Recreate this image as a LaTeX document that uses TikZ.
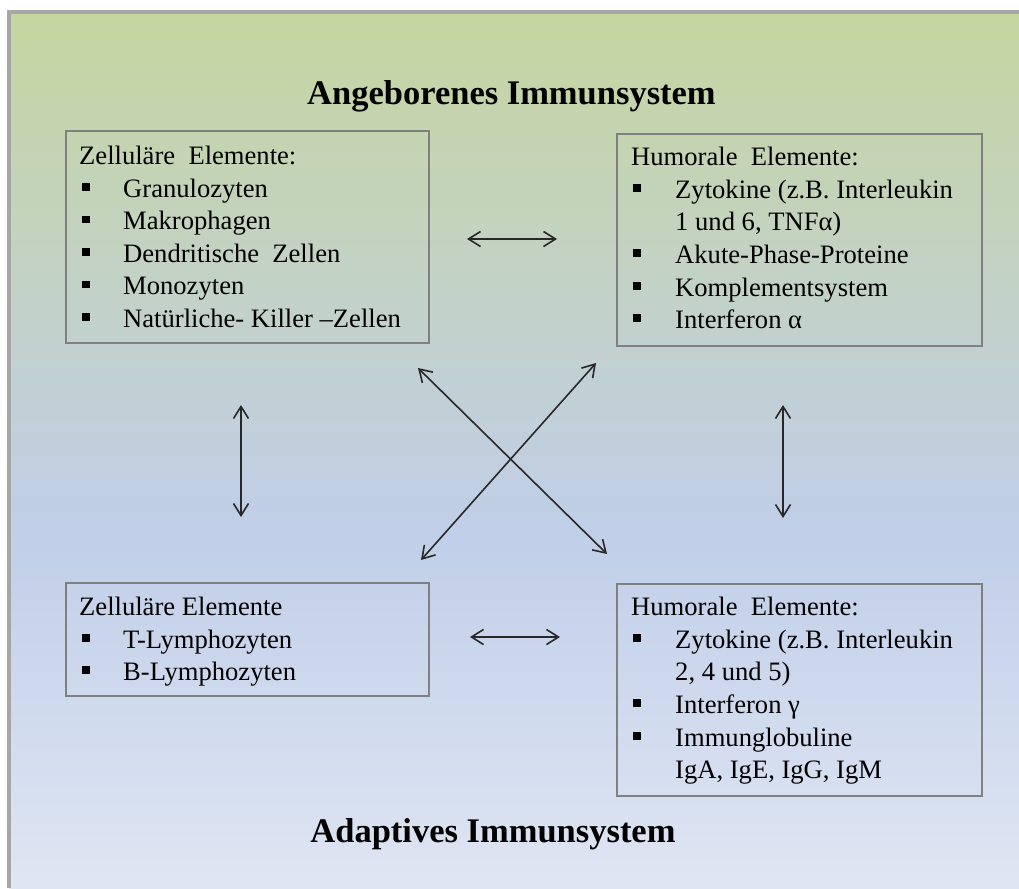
\documentclass[tikz,border=0pt]{standalone}
\usepackage{fontspec}
\setmainfont{Liberation Serif}
\usetikzlibrary{arrows.meta}
\definecolor{bgtop}{RGB}{197,214,160}
\definecolor{bgmid}{RGB}{192,206,232}
\definecolor{bgbot}{RGB}{223,230,243}
\definecolor{framegray}{RGB}{166,166,166}
\definecolor{boxgray}{RGB}{128,128,128}
\definecolor{arrowgray}{RGB}{40,40,40}
\pgfdeclareverticalshading{bgshade}{100bp}{%
  color(0bp)=(bgbot); color(25bp)=(bgbot); color(45.5bp)=(bgmid); color(75bp)=(bgtop); color(100bp)=(bgtop)}
\tikzset{
  box/.style={draw=boxgray, line width=1.8pt, inner sep=0pt, anchor=north west},
  txt/.style={anchor=base west, inner sep=0pt, font=\fontsize{26.6}{32}\selectfont},
  title/.style={anchor=base, inner sep=0pt, font=\fontsize{34.5}{40}\selectfont\bfseries},
  bul/.style={fill=black, minimum size=7.5pt, inner sep=0pt},
  link/.style={draw=arrowgray, line width=1.6pt, {Straight Barb[length=12pt,width=15pt,line width=1.6pt]}-{Straight Barb[length=12pt,width=15pt,line width=1.6pt]}}
}
\begin{document}
\begin{tikzpicture}[x=1pt,y=-1pt]
\useasboundingbox (0,0) rectangle (1019,888);
\fill[white] (0,0) rectangle (1019,888);
\shade[shading=bgshade] (9,12) rectangle (1019,888);
\draw[framegray, line width=4pt] (9,888) -- (9,12) -- (1019,12);

% titles
\node[title] (t1) at (511.5,105) {Angeborenes Immunsystem};
\node[title] (t2) at (493,842) {Adaptives Immunsystem};

% boxes
\node[box, minimum width=363pt, minimum height=212pt] (tl) at (65,130) {};
\node[box, minimum width=365pt, minimum height=212pt] (tr) at (616,133) {};
\node[box, minimum width=363pt, minimum height=113pt] (bl) at (65,582) {};
\node[box, minimum width=365pt, minimum height=212pt] (br) at (616,583) {};

% top left content
\node[txt] (tlh) at (79,164) {Zelluläre\ \ Elemente:};
\node[bul] (tlb1) at (86,187) {}; \node[txt] (tl1) at (123,197) {Granulozyten};
\node[bul] (tlb2) at (86,219.5) {}; \node[txt] (tl2) at (123,229.5) {Makrophagen};
\node[bul] (tlb3) at (86,252) {}; \node[txt] (tl3) at (123,262) {Dendritische\ \ Zellen};
\node[bul] (tlb4) at (86,284.5) {}; \node[txt] (tl4) at (123,294.5) {Monozyten};
\node[bul] (tlb5) at (86,317) {}; \node[txt] (tl5) at (123,327) {Natürliche- Killer –Zellen};

% top right content
\node[txt] (trh) at (631,165) {Humorale\ \ Elemente:};
\node[bul] (trb1) at (637,188) {}; \node[txt] (tr1) at (675,198) {Zytokine (z.B. Interleukin};
\node[txt] (tr1b) at (675,230) {1 und 6, TNFα)};
\node[bul] (trb2) at (637,253) {}; \node[txt] (tr2) at (675,263) {Akute-Phase-Proteine};
\node[bul] (trb3) at (637,286) {}; \node[txt] (tr3) at (675,296) {Komplementsystem};
\node[bul] (trb4) at (637,318) {}; \node[txt] (tr4) at (675,328) {Interferon α};

% bottom left content
\node[txt] (blh) at (79,615) {Zelluläre Elemente};
\node[bul] (blb1) at (86,638) {}; \node[txt] (bl1) at (123,648) {T-Lymphozyten};
\node[bul] (blb2) at (86,670) {}; \node[txt] (bl2) at (123,680) {B-Lymphozyten};

% bottom right content
\node[txt] (brh) at (631,615) {Humorale\ \ Elemente:};
\node[bul] (brb1) at (637,638) {}; \node[txt] (br1) at (675,648) {Zytokine (z.B. Interleukin};
\node[txt] (br1b) at (675,680) {2, 4 und 5)};
\node[bul] (brb2) at (637,703) {}; \node[txt] (br2) at (675,713) {Interferon γ};
\node[bul] (brb3) at (637,736) {}; \node[txt] (br3) at (675,746) {Immunglobuline};
\node[txt] (br3b) at (675,778) {IgA, IgE, IgG, IgM};

% arrow end points
\coordinate (h1a) at (467,239); \coordinate (h1b) at (557,239);
\coordinate (h2a) at (470,637); \coordinate (h2b) at (560,637);
\coordinate (v1a) at (241,405); \coordinate (v1b) at (241,517);
\coordinate (v2a) at (783,405); \coordinate (v2b) at (783,518);
\coordinate (d1a) at (418,368); \coordinate (d1b) at (607,554);
\coordinate (d2a) at (596,363); \coordinate (d2b) at (421,560);

\draw[link] (h1a) -- (h1b);
\draw[link] (h2a) -- (h2b);
\draw[link] (v1a) -- (v1b);
\draw[link] (v2a) -- (v2b);
\draw[link] (d1a) -- (d1b);
\draw[link] (d2a) -- (d2b);
\end{tikzpicture}
\end{document}
